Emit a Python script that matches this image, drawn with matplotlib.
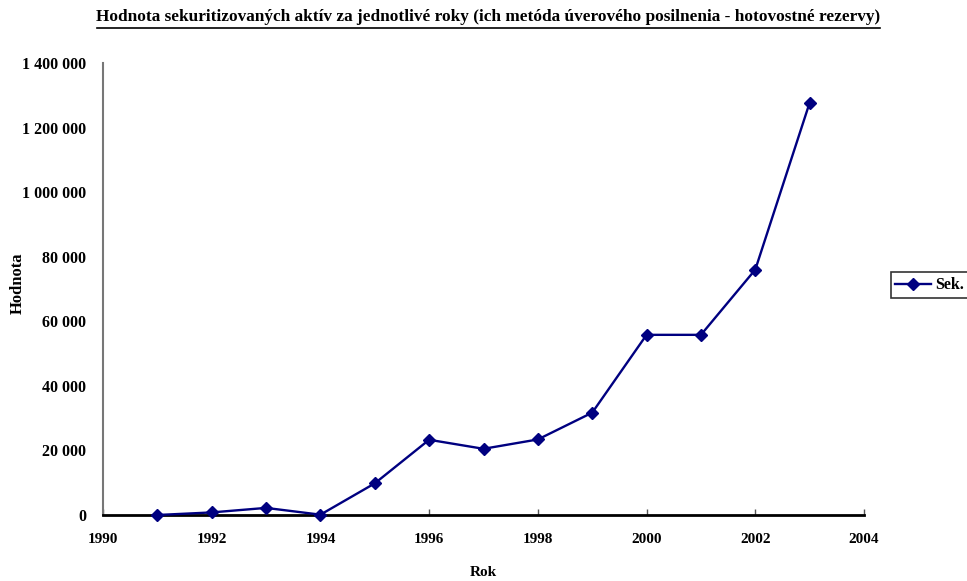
import matplotlib.pyplot as plt
from matplotlib.lines import Line2D

plt.rcParams['font.family'] = ['Liberation Serif', 'DejaVu Serif']
plt.rcParams['font.weight'] = 'bold'

roky = [1991, 1992, 1993, 1994, 1995, 1996, 1997, 1998, 1999, 2000, 2001, 2002, 2003]
hodnoty = [0, 8000, 22000, 1000, 98000, 233000, 205000, 234000, 317000,
           558000, 558000, 760000, 1277000]

y_ticks = [0, 200000, 400000, 600000, 800000, 1000000, 1200000, 1400000]
y_labels = ['0', '20 000', '40 000', '60 000', '80 000', '1 000 000', '1 200 000', '1 400 000']
x_ticks = [1990, 1992, 1994, 1996, 1998, 2000, 2002, 2004]

fig = plt.figure(figsize=(9.67, 5.81), dpi=100)
ax = fig.add_axes([0.1065, 0.1136, 0.787, 0.778])

ax.plot(roky, hodnoty, color='#000080', lw=1.7, marker='D', ms=6,
        mec='#000080', mfc='#000080', label='Sek.', clip_on=False, zorder=3)

ax.set_xlim(1990, 2004)
ax.set_ylim(0, 1400000)
ax.set_xticks(x_ticks)
ax.set_yticks(y_ticks)
ax.set_yticklabels(y_labels)

for s in ['top', 'right']:
    ax.spines[s].set_visible(False)
ax.spines['bottom'].set_color('black')
ax.spines['bottom'].set_linewidth(2)
ax.spines['left'].set_color('#777777')
ax.spines['left'].set_linewidth(1.5)

ax.tick_params(axis='x', direction='in', length=4, width=1, color='#555555',
               pad=13, labelsize=11)
ax.tick_params(axis='y', length=0, pad=12, labelsize=11.5)

# osi popisky
fig.text(18 / 967, 1 - 283 / 581, 'Hodnota', rotation=90, ha='center',
         va='center', fontsize=12, fontweight='bold')
fig.text(0.4995, 1 - 573 / 581, 'Rok', ha='center', va='center',
         fontsize=11, fontweight='bold')

# nadpis s podciarknutim
fig.text(488.5 / 967, 1 - 17 / 581, 'Hodnota sekuritizovaných aktív za jednotlivé roky '
         '(ich metóda úverového posilnenia - hotovostné rezervy)',
         ha='center', va='center', fontsize=12.4, fontweight='bold')
fig.add_artist(Line2D([97 / 967, 880 / 967], [1 - 28 / 581, 1 - 28 / 581],
                      color='black', lw=1.2, transform=fig.transFigure))

leg = ax.legend(loc='center left', bbox_to_anchor=(0.921, 0.509),
                bbox_transform=fig.transFigure, frameon=True, fancybox=False,
                edgecolor='black', fontsize=11.5, handlelength=2.2,
                borderpad=0.3, handletextpad=0.3, borderaxespad=0)
leg.get_frame().set_linewidth(1.2)

fig.savefig('out.png', dpi=100)
